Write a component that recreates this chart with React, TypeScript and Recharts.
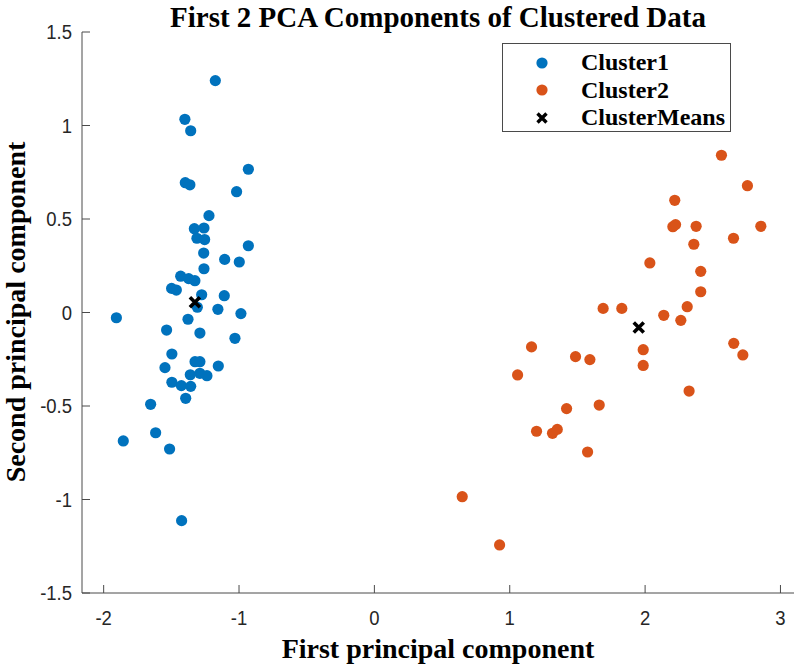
import { ScatterChart, Scatter, XAxis, YAxis, Legend } from 'recharts'

// PCA scores, cluster 1
const cluster1X = [
  -1.175, -1.4, -1.357, -0.931, -1.397, -1.363, -1.018, -1.222, -1.33, -1.259,
  -1.311, -1.254, -0.931, -1.261, -1.106, -0.998, -1.259, -1.431, -1.372, -1.326,
  -1.498, -1.463, -1.276, -1.109, -1.308, -1.156, -0.986, -1.906, -1.377, -1.535,
  -1.289, -1.03, -1.496, -1.325, -1.289, -1.547, -1.153, -1.36, -1.289, -1.237,
  -1.496, -1.426, -1.357, -1.394, -1.653, -1.616, -1.855, -1.513, -1.424,
]
const cluster1Y = [
  1.24, 1.033, 0.972, 0.766, 0.694, 0.683, 0.646, 0.518, 0.448, 0.452,
  0.397, 0.39, 0.357, 0.318, 0.284, 0.27, 0.234, 0.194, 0.181, 0.17,
  0.129, 0.12, 0.095, 0.09, 0.028, 0.017, -0.006, -0.028, -0.036, -0.094,
  -0.11, -0.138, -0.222, -0.263, -0.263, -0.295, -0.286, -0.333, -0.325, -0.338,
  -0.373, -0.391, -0.395, -0.459, -0.491, -0.643, -0.687, -0.73, -1.113,
]

// PCA scores, cluster 2
const cluster2X = [
  2.564, 2.756, 2.219, 2.205, 2.225, 2.377, 2.855, 2.653, 2.36, 2.035,
  2.411, 2.411, 1.69, 1.828, 2.311, 2.138, 2.264, 1.161, 1.986, 1.486,
  1.592, 1.986, 1.058, 2.325, 1.661, 1.42, 1.198, 1.316, 1.351, 1.575,
  0.649, 0.925, 2.655, 2.722,
]
const cluster2Y = [
  0.841, 0.678, 0.6, 0.459, 0.47, 0.461, 0.461, 0.397, 0.365, 0.265,
  0.22, 0.111, 0.022, 0.022, 0.031, -0.015, -0.042, -0.184, -0.199, -0.236,
  -0.252, -0.283, -0.334, -0.42, -0.495, -0.514, -0.635, -0.646, -0.625, -0.746,
  -0.985, -1.243, -0.165, -0.227,
]

const meansX = [-1.326, 1.953]
const meansY = [0.055, -0.08]

const xTicks = [-2, -1, 0, 1, 2, 3]
const yTicks = [-1.5, -1, -0.5, 0, 0.5, 1, 1.5]

const seriesNames = ['Cluster1', 'Cluster2', 'ClusterMeans']

const BLUE = '#0072BD'
const ORANGE = '#D95319'
const AXIS = '#4a4a4a'
const TICK = 8
const serif = '"Liberation Serif", "Times New Roman", serif'
const sans = '"Liberation Sans", Arial, sans-serif'

const zip = (xs: number[], ys: number[]) => xs.map((x, i) => ({ x, y: ys[i] }))

const dot = (color: string) => (p: any) => <circle cx={p.cx} cy={p.cy} r={5.6} fill={color} />

const cross = (p: any) => (
  <path
    d={`M${p.cx - 5},${p.cy - 5}L${p.cx + 5},${p.cy + 5}M${p.cx - 5},${p.cy + 5}L${p.cx + 5},${p.cy - 5}`}
    stroke="#000"
    strokeWidth={3.6}
  />
)

// the original's tick labels are tall and narrow
const squeeze = (origin: string) => ({
  transform: 'scaleX(0.88)',
  transformBox: 'fill-box' as const,
  transformOrigin: origin,
})

const BottomTick = ({ x, y, payload }: any) => (
  <g>
    <line x1={x} x2={x} y1={y} y2={y - TICK} stroke={AXIS} />
    <text x={x} y={y + 32.5} textAnchor="middle" fontFamily={sans} fontSize={21} fill="#262626" style={squeeze('center')}>
      {String(payload.value)}
    </text>
  </g>
)
const TopTick = ({ x, y }: any) => <line x1={x} x2={x} y1={y} y2={y + TICK} stroke={AXIS} />
const LeftTick = ({ x, y, payload }: any) => (
  <g>
    <line x1={x} x2={x + TICK} y1={y} y2={y} stroke={AXIS} />
    <text x={x - 10} y={y + 7.5} textAnchor="end" fontFamily={sans} fontSize={21} fill="#262626" style={squeeze('right center')}>
      {String(payload.value)}
    </text>
  </g>
)
const RightTick = ({ x, y }: any) => <line x1={x} x2={x - TICK} y1={y} y2={y} stroke={AXIS} />

const LegendBox = () => (
  <div
    style={{
      width: 227,
      height: 82,
      paddingTop: 5,
      border: `1px solid ${AXIS}`,
      background: '#fff',
      fontFamily: serif,
      fontWeight: 'bold',
      fontSize: 24,
    }}
  >
    {seriesNames.map((name, i) => (
      <div key={name} style={{ display: 'flex', alignItems: 'center', height: 27.5, lineHeight: '27.5px' }}>
        <svg width={16} height={16} style={{ marginLeft: 31, marginRight: 31 }}>
          {i < 2 ? (
            <circle cx={8} cy={8} r={5.6} fill={i === 0 ? BLUE : ORANGE} />
          ) : (
            <path d="M3.5,3.5L12.5,12.5M3.5,12.5L12.5,3.5" stroke="#000" strokeWidth={3.4} />
          )}
        </svg>
        <span>{name}</span>
      </div>
    ))}
  </div>
)

export default function App() {
  return (
    <div style={{ position: 'absolute', left: 0, top: 0, width: 800, height: 666, background: '#fff' }}>
      <div
        style={{
          position: 'absolute', left: 82, top: 1, width: 712, textAlign: 'center',
          fontFamily: serif, fontWeight: 'bold', fontSize: 29, lineHeight: '32px', color: '#000',
        }}
      >
        First 2 PCA Components of Clustered Data
      </div>
      <ScatterChart width={800} height={666} margin={{ top: 32, right: 6, bottom: 32, left: 22 }}>
        <XAxis
          xAxisId="b" type="number" dataKey="x" domain={[-2.16, 3.1]} ticks={xTicks}
          allowDataOverflow orientation="bottom" height={41}
          axisLine={{ stroke: AXIS }} tickLine={false} tickSize={0} tickMargin={0} tick={<BottomTick />}
        />
        <XAxis
          xAxisId="t" type="number" dataKey="x" domain={[-2.16, 3.1]} ticks={xTicks}
          allowDataOverflow orientation="top" height={0}
          axisLine={{ stroke: AXIS }} tickLine={false} tickSize={0} tickMargin={0} tick={<TopTick />}
        />
        <YAxis
          yAxisId="l" type="number" dataKey="y" domain={[-1.5, 1.5]} ticks={yTicks}
          allowDataOverflow orientation="left" width={60}
          axisLine={{ stroke: AXIS }} tickLine={false} tickSize={0} tickMargin={0} tick={<LeftTick />}
        />
        <YAxis
          yAxisId="r" type="number" dataKey="y" domain={[-1.5, 1.5]} ticks={yTicks}
          allowDataOverflow orientation="right" width={0}
          axisLine={{ stroke: AXIS }} tickLine={false} tickSize={0} tickMargin={0} tick={<RightTick />}
        />
        <Legend
          layout="vertical" align="center" verticalAlign="middle"
          wrapperStyle={{ left: 502, top: 43, width: 229 }}
          content={<LegendBox />}
        />
        <Scatter name="Cluster1" xAxisId="b" yAxisId="l" data={zip(cluster1X, cluster1Y)} shape={dot(BLUE)} isAnimationActive={false} />
        <Scatter name="Cluster2" xAxisId="b" yAxisId="l" data={zip(cluster2X, cluster2Y)} shape={dot(ORANGE)} isAnimationActive={false} />
        <Scatter name="ClusterMeans" xAxisId="b" yAxisId="l" data={zip(meansX, meansY)} shape={cross} isAnimationActive={false} />
      </ScatterChart>
      <div
        style={{
          position: 'absolute', left: 82, top: 633, width: 712, textAlign: 'center',
          fontFamily: serif, fontWeight: 'bold', fontSize: 28, lineHeight: '32px', color: '#000',
        }}
      >
        First principal component
      </div>
      <div
        style={{
          position: 'absolute', left: 16, top: 312, transform: 'translate(-50%, -50%) rotate(-90deg)',
          whiteSpace: 'nowrap', fontFamily: serif, fontWeight: 'bold', fontSize: 28, lineHeight: '28px', color: '#000',
        }}
      >
        Second principal component
      </div>
    </div>
  )
}
